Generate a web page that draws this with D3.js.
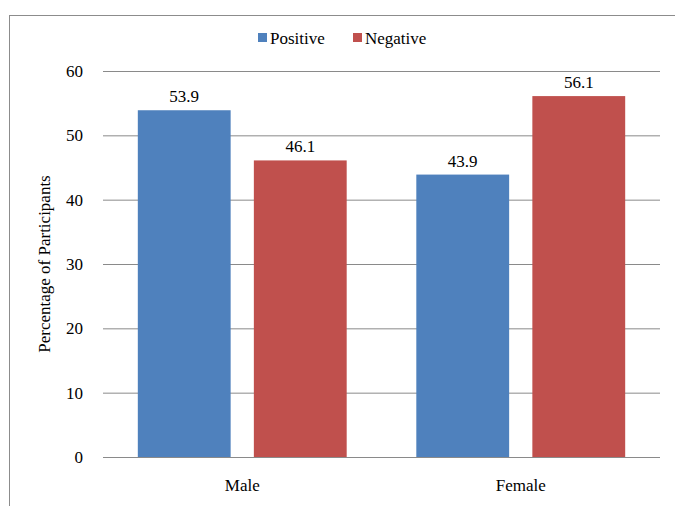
<!DOCTYPE html>
<html>
<head>
<meta charset="utf-8">
<script src="https://cdn.jsdelivr.net/npm/d3@7"></script>
<style>
  html, body { margin: 0; padding: 0; background: #fff; }
  svg { display: block; }
</style>
</head>
<body>
<svg id="chart" width="675" height="506"></svg>
<script>
// Percentage of participants by gender and response
const categories = ["Male", "Female"];
const seriesNames = ["Positive", "Negative"];
const positiveValues = [53.9, 43.9];
const negativeValues = [46.1, 56.1];
const yTicks = [0, 10, 20, 30, 40, 50, 60];
const seriesColors = ["#4F81BD", "#C0504D"];

const FONT = "'Liberation Serif', 'DejaVu Serif', serif";

const svg = d3.select("#chart");
const margin = { left: 103, right: 15, top: 71, bottom: 49 };
const W = 675, H = 506;

// chart frame
svg.append("rect")
  .attr("x", 9.5).attr("y", 15.5)
  .attr("width", 700).attr("height", 600)
  .attr("fill", "#fff").attr("stroke", "#8c8c8c").attr("stroke-width", 1);

const x0 = d3.scaleBand()
  .domain(categories)
  .range([margin.left, W - margin.right])
  .padding(0);

const x1 = d3.scaleBand()
  .domain(seriesNames)
  .range([0, x0.bandwidth()])
  .paddingInner(0.2).paddingOuter(0.3);

const y = d3.scaleLinear().domain([0, 60]).range([H - margin.bottom, margin.top]);

// gridlines + value axis
const yAxis = d3.axisLeft(y).tickValues(yTicks).tickSize(-(W - margin.right - margin.left)).tickPadding(20);
const gy = svg.append("g").attr("transform", `translate(${margin.left},0)`).call(yAxis);
gy.attr("font-family", null);
gy.select(".domain").remove();
gy.selectAll(".tick line").attr("stroke", "#8a8a8a").attr("stroke-width", 1);
gy.selectAll(".tick text").attr("font-size", 17).attr("fill", "#000");

// category axis labels
const xAxis = d3.axisBottom(x0).tickSize(0).tickPadding(22);
const gx = svg.append("g").attr("transform", `translate(0,${H - margin.bottom})`).call(xAxis);
gx.attr("font-family", null);
gx.select(".domain").remove();
gx.selectAll(".tick text").attr("font-size", 17).attr("fill", "#000");

// bars
const rows = categories.map((c, i) => ({
  cat: c,
  values: [
    { name: seriesNames[0], value: positiveValues[i], color: seriesColors[0] },
    { name: seriesNames[1], value: negativeValues[i], color: seriesColors[1] }
  ]
}));

const groups = svg.append("g").selectAll("g").data(rows).join("g")
  .attr("transform", d => `translate(${x0(d.cat)},0)`);

groups.selectAll("rect").data(d => d.values).join("rect")
  .attr("x", d => x1(d.name))
  .attr("y", d => y(d.value))
  .attr("width", x1.bandwidth())
  .attr("height", d => y(0) - y(d.value))
  .attr("fill", d => d.color);

groups.selectAll("text").data(d => d.values).join("text")
  .attr("x", d => x1(d.name) + x1.bandwidth() / 2)
  .attr("y", d => y(d.value) - 8)
  .attr("text-anchor", "middle")
  .attr("font-size", 17)
  .attr("fill", "#000")
  .text(d => d.value.toFixed(1));

// y-axis title
svg.append("text")
  .attr("transform", `translate(50,${(y(0) + y(60)) / 2}) rotate(-90)`)
  .attr("text-anchor", "middle")
  .attr("font-size", 17)
  .attr("fill", "#000")
  .text("Percentage of Participants");

// legend
const legendItems = [
  { name: seriesNames[0], color: seriesColors[0], x: 258 },
  { name: seriesNames[1], color: seriesColors[1], x: 353 }
];
const lg = svg.append("g").selectAll("g").data(legendItems).join("g")
  .attr("transform", d => `translate(${d.x},0)`);
lg.append("rect").attr("x", 0).attr("y", 33).attr("width", 9).attr("height", 9).attr("fill", d => d.color);
lg.append("text").attr("x", 12).attr("y", 44).attr("font-size", 17).attr("fill", "#000").text(d => d.name);

// serif face on every label
svg.selectAll("text").style("font-family", FONT);
</script>
</body>
</html>
